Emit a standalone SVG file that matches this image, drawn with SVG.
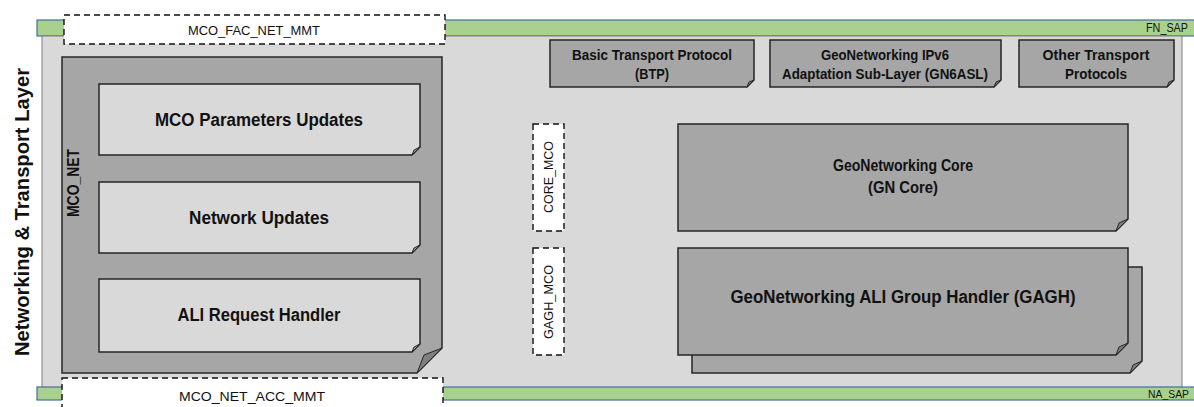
<svg xmlns="http://www.w3.org/2000/svg" width="1194" height="407" viewBox="0 0 1194 407">
<style>
text{font-family:"Liberation Sans",Arial,sans-serif;fill:#111;}
.b{font-weight:bold;}
.dk{fill:#a6a6a6;stroke:#262626;stroke-width:1.5;}
.lt{fill:#d9d9d9;stroke:#262626;stroke-width:1.5;}
.fl{fill:#7f7f7f;stroke:#262626;stroke-width:1;}
.fll{fill:#a0a0a0;stroke:#262626;stroke-width:1;}
.dash{fill:#fff;stroke:#111;stroke-width:1.4;stroke-dasharray:6,4;}
.sap{fill:#a9d18e;stroke:#41719c;stroke-width:1.2;}
</style>
<rect width="1194" height="407" fill="#fff"/>
<g id="layer">
<rect x="37" y="20" width="1160" height="16" class="sap"/>
<rect x="42" y="36" width="1140" height="352" fill="#d9d9d9" stroke="#7f7f7f" stroke-width="1"/>
<rect x="37" y="387" width="1160" height="13" class="sap"/>
<text x="1146" y="32" font-size="12" textLength="42" lengthAdjust="spacingAndGlyphs">FN_SAP</text>
<text x="1148" y="398" font-size="11.5" textLength="41" lengthAdjust="spacingAndGlyphs">NA_SAP</text>
<text class="b" font-size="20" transform="translate(29,212) rotate(-90)" text-anchor="middle" textLength="288" lengthAdjust="spacingAndGlyphs">Networking &amp; Transport Layer</text>
</g>
<g id="mco_fac_net_mmt">
<rect x="64" y="15" width="381" height="29" class="dash"/>
<text x="254" y="35" font-size="13" text-anchor="middle" textLength="132" lengthAdjust="spacingAndGlyphs">MCO_FAC_NET_MMT</text>
</g>
<g id="mco_net_acc_mmt">
<rect x="62" y="378" width="381" height="35" class="dash"/>
<text x="252" y="401" font-size="13" text-anchor="middle" textLength="146" lengthAdjust="spacingAndGlyphs">MCO_NET_ACC_MMT</text>
</g>
<g id="mco_net">
<path d="M62 57 H442 V348 L417 373 H62 Z" class="dk"/>
<path d="M417 373 L424 355 L442 348 Z" class="fl"/>
<text class="b" font-size="16.5" transform="translate(79,183) rotate(-90)" text-anchor="middle" textLength="68" lengthAdjust="spacingAndGlyphs">MCO_NET</text>
</g>
<g id="mco_params">
<path d="M99 84 H420 V147 L412 155 H99 Z" class="lt"/>
<path d="M412 155 L414 150 L420 147 Z" class="fll"/>
<text class="b" font-size="17.5" x="259" y="126" text-anchor="middle" textLength="208" lengthAdjust="spacingAndGlyphs">MCO Parameters Updates</text>
</g>
<g id="network_updates">
<path d="M99 182 H420 V245 L412 253 H99 Z" class="lt"/>
<path d="M412 253 L414 248 L420 245 Z" class="fll"/>
<text class="b" font-size="17.5" x="259" y="224" text-anchor="middle" textLength="140" lengthAdjust="spacingAndGlyphs">Network Updates</text>
</g>
<g id="ali_request_handler">
<path d="M99 279 H420 V344 L412 352 H99 Z" class="lt"/>
<path d="M412 352 L414 347 L420 344 Z" class="fll"/>
<text class="b" font-size="17.5" x="259" y="321" text-anchor="middle" textLength="163" lengthAdjust="spacingAndGlyphs">ALI Request Handler</text>
</g>
<g id="btp">
<path d="M550 40 H754 V80 L747 87 H550 Z" class="dk"/>
<path d="M747 87 L749 82 L754 80 Z" class="fl"/>
<text class="b" font-size="14.5" x="652" y="60" text-anchor="middle" textLength="160" lengthAdjust="spacingAndGlyphs">Basic Transport Protocol</text>
<text class="b" font-size="14.5" x="652" y="79" text-anchor="middle" textLength="34" lengthAdjust="spacingAndGlyphs">(BTP)</text>
</g>
<g id="gn6asl">
<path d="M770 40 H1001 V80 L994 87 H770 Z" class="dk"/>
<path d="M994 87 L996 82 L1001 80 Z" class="fl"/>
<text class="b" font-size="14.5" x="885" y="60" text-anchor="middle" textLength="128" lengthAdjust="spacingAndGlyphs">GeoNetworking IPv6</text>
<text class="b" font-size="14.5" x="885" y="79" text-anchor="middle" textLength="206" lengthAdjust="spacingAndGlyphs">Adaptation Sub-Layer (GN6ASL)</text>
</g>
<g id="other_transport">
<path d="M1019 40 H1174 V80 L1167 87 H1019 Z" class="dk"/>
<path d="M1167 87 L1169 82 L1174 80 Z" class="fl"/>
<text class="b" font-size="14.5" x="1096" y="60" text-anchor="middle" textLength="107" lengthAdjust="spacingAndGlyphs">Other Transport</text>
<text class="b" font-size="14.5" x="1096" y="79" text-anchor="middle" textLength="62" lengthAdjust="spacingAndGlyphs">Protocols</text>
</g>
<g id="core_mco">
<rect x="533" y="124" width="31" height="107" class="dash"/>
<text font-size="13" transform="translate(553,177) rotate(-90)" text-anchor="middle" textLength="72" lengthAdjust="spacingAndGlyphs">CORE_MCO</text>
</g>
<g id="gagh_mco">
<rect x="533" y="248" width="31" height="107" class="dash"/>
<text font-size="13" transform="translate(553,302) rotate(-90)" text-anchor="middle" textLength="74" lengthAdjust="spacingAndGlyphs">GAGH_MCO</text>
</g>
<g id="gn_core">
<path d="M678 124 H1128 V219 L1116 231 H678 Z" class="dk"/>
<path d="M1116 231 L1119 223 L1128 219 Z" class="fl"/>
<text class="b" font-size="17" x="903" y="171" text-anchor="middle" textLength="140" lengthAdjust="spacingAndGlyphs">GeoNetworking Core</text>
<text class="b" font-size="17" x="903" y="193" text-anchor="middle" textLength="70" lengthAdjust="spacingAndGlyphs">(GN Core)</text>
</g>
<g id="gagh">
<path d="M692 267 H1142 V361 L1130 373 H692 Z" class="dk"/>
<path d="M1130 373 L1133 365 L1142 361 Z" class="fl"/>
<path d="M678 248 H1128 V343 L1116 355 H678 Z" class="dk"/>
<path d="M1116 355 L1119 347 L1128 343 Z" class="fl"/>
<text class="b" font-size="17.5" x="903" y="303" text-anchor="middle" textLength="345" lengthAdjust="spacingAndGlyphs">GeoNetworking ALI Group Handler (GAGH)</text>
</g>
<g id="connectors"/>
</svg>
